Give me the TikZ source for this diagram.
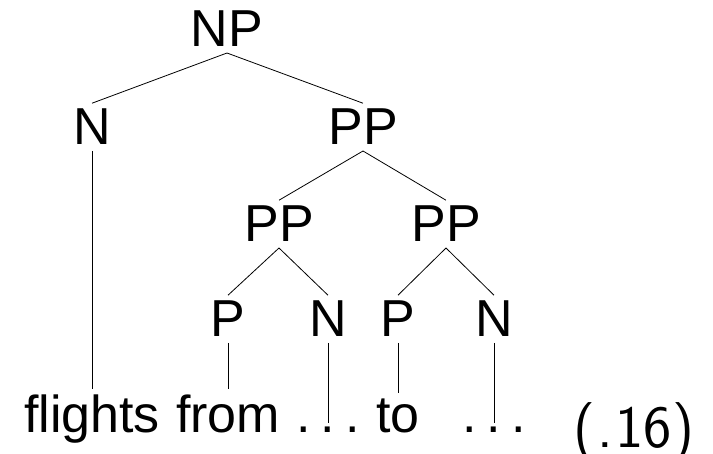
\documentclass[tikz,border=0pt]{standalone}
\usepackage{fontspec}
\setmainfont{Liberation Sans}
\begin{document}
\begin{tikzpicture}[x=1pt,y=-1pt,
  big/.style={font=\fontsize{52}{60}\selectfont},
  cat/.style={big, inner sep=0pt, outer sep=6pt, anchor=base},
  word/.style={big, inner sep=0pt, outer sep=6pt, anchor=base},
  dots/.style={word, text height=0.42em},
  branch/.style={line width=0.8pt, black},
  tagnum/.style={font=\fontsize{60}{66}\sffamily, inner sep=0pt, anchor=base}]
\useasboundingbox (0,0) rectangle (713,454);

% categories
\node[cat] (np)  at (227,47)  {NP};
\node[cat] (n1)  at (92,145)  {N};
\node[cat] (pp1) at (363,145) {PP};
\node[cat] (pp2) at (279,242) {PP};
\node[cat] (pp3) at (446,242) {PP};
\node[cat] (p1)  at (228,337) {P};
\node[cat] (n2)  at (328,337) {N};
\node[cat] (p2)  at (398,337) {P};
\node[cat] (n3)  at (494,337) {N};

% words
\node[word] (w1) at (92,433)  {flights};
\node[word] (w2) at (228,433) {from};
\node[dots] (w3) at (328,433) {.\kern0.19em.\kern0.19em.};
\node[word] (w4) at (398,433) {to};
\node[dots] (w5) at (494,433) {.\kern0.19em.\kern0.19em.};
\node[tagnum] (tag) at (634,448) {(\kern0.04em.\kern0.04em16\kern0.02em)};

% branches
\draw[branch] (np.south) -- (n1.north);
\draw[branch] (np.south) -- (pp1.north);
\draw[branch] (pp1.south) -- (pp2.north);
\draw[branch] (pp1.south) -- (pp3.north);
\draw[branch] (pp2.south) -- (p1.north);
\draw[branch] (pp2.south) -- (n2.north);
\draw[branch] (pp3.south) -- (p2.north);
\draw[branch] (pp3.south) -- (n3.north);
\draw[branch] (n1.south) -- (n1.south |- w1.north);
\draw[branch] (p1.south) -- (p1.south |- w2.north);
\draw[branch] (n2.south) -- (n2.south |- w3.north);
\draw[branch] (p2.south) -- (p2.south |- w4.north);
\draw[branch] (n3.south) -- (n3.south |- w5.north);
\end{tikzpicture}
\end{document}
